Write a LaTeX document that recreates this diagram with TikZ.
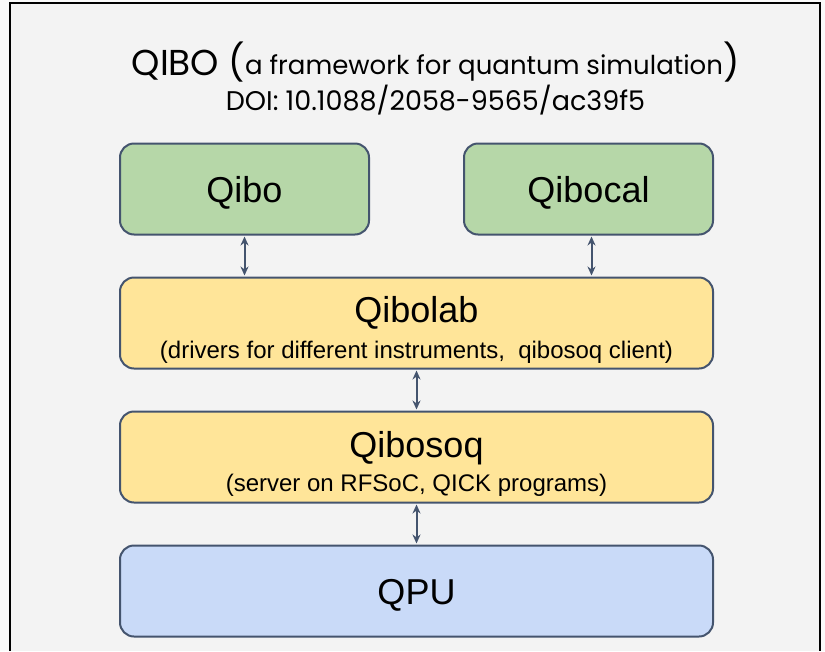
\documentclass[tikz,border=0pt]{standalone}
\usepackage{fontspec}
\setmainfont{Liberation Sans}
\newfontfamily\titlefont{Poppins}
\usetikzlibrary{positioning,arrows.meta}

\definecolor{slideback}{HTML}{F3F3F3}
\definecolor{pagewhite}{HTML}{FAFAFA}
\definecolor{boxline}{HTML}{44546E}
\definecolor{appgreen}{HTML}{B6D7A8}
\definecolor{labyellow}{HTML}{FFE599}
\definecolor{qpublue}{HTML}{C9DAF8}

\newcommand{\headstrut}{\rule{0pt}{34pt}}

\begin{document}
\begin{tikzpicture}[
  x=1pt, y=-1pt,
  >={Stealth[length=9pt,width=8pt]},
  node distance=41pt,
  layer/.style={draw=boxline, line width=2pt, rounded corners=14pt,
    align=center, inner sep=0pt},
  wide/.style={layer, minimum width=593pt, minimum height=91pt},
  small/.style={layer, fill=appgreen, minimum width=249pt, minimum height=91pt,
    font=\fontsize{36}{40}\selectfont},
  big/.style={font=\fontsize{36}{40}\selectfont},
  link/.style={<->, draw=boxline, line width=2pt, shorten >=1pt, shorten <=1pt},
]
  % page and slide frame
  \fill[pagewhite] (0,0) rectangle (825,651);
  \useasboundingbox (0,0) rectangle (825,651);
  \fill[slideback] (10,3) rectangle (820,651);
  \draw[line width=2pt] (10,651) -- (10,3) -- (820,3) -- (820,651);

  % title
  \node (title) at (435.5,62) {\titlefont\fontsize{36}{40}\selectfont QIBO
    (\raisebox{1pt}{\fontsize{26}{30}\selectfont a framework for quantum simulation})};
  \node[below=-4pt of title, font=\titlefont\fontsize{27}{30}\selectfont] (doi)
    {DOI: 10.1088/2058-9565/ac39f5};

  % layers
  \node[wide, fill=labyellow] (lab) at (416.5,323)
    {{\fontsize{36}{40}\selectfont\rule{0pt}{40pt}Qibolab}\\[10pt]
     {\fontsize{24}{28}\selectfont (drivers for different instruments,\ \ qibosoq client)}};
  \node[small, above right=41pt and 0pt of lab.north west] (qibo) {\headstrut Qibo};
  \node[small, above left=41pt and 0pt of lab.north east] (cal) {\headstrut Qibocal};
  \node[wide, fill=labyellow, below=of lab] (soq)
    {{\fontsize{36}{40}\selectfont\rule{0pt}{40pt}Qibosoq}\\[8pt]
     {\fontsize{24}{28}\selectfont (server on RFSoC, QICK programs)}};
  \node[wide, fill=qpublue, below=of soq, big] (qpu) {\headstrut QPU};

  % links
  \draw[link] (qibo.south) -- (qibo.south |- lab.north);
  \draw[link] ([xshift=3pt]cal.south) -- ([xshift=3pt]cal.south |- lab.north);
  \draw[link] (lab) -- (soq);
  \draw[link] (soq) -- (qpu);
\end{tikzpicture}
\end{document}
